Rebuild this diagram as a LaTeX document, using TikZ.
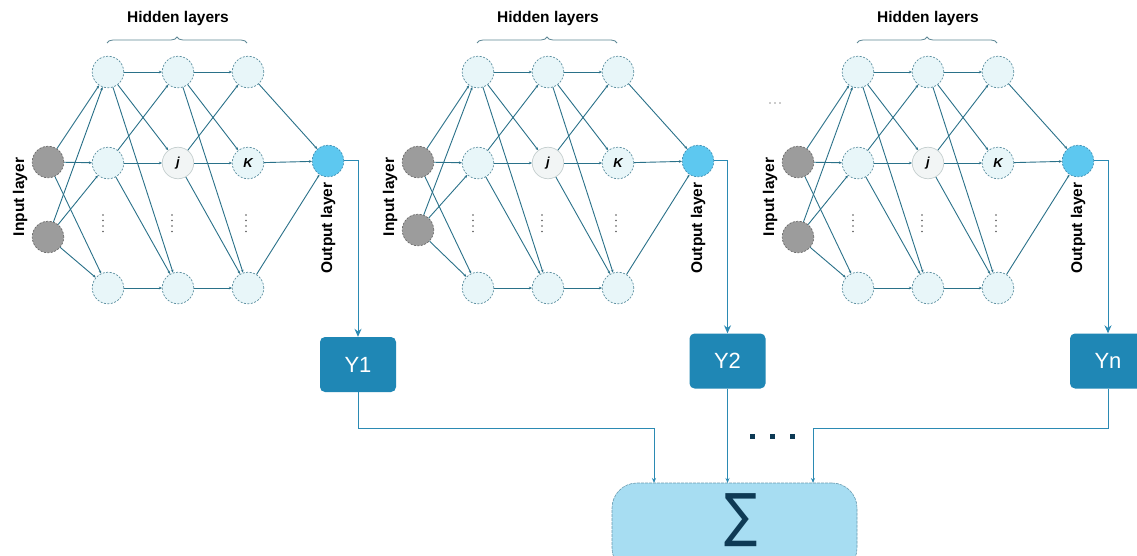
\documentclass[tikz,border=0pt]{standalone}
\usepackage{fontspec}
\setmainfont{Liberation Sans}
\newfontfamily\djv{DejaVu Sans}
\usetikzlibrary{arrows.meta,decorations.pathreplacing}
\definecolor{edgec}{HTML}{2A7189}
\definecolor{hidf}{HTML}{E8F6F9}
\definecolor{hidb}{HTML}{5B8FA0}
\definecolor{inf}{HTML}{9C9C9C}
\definecolor{inb}{HTML}{6A6A6A}
\definecolor{outf}{HTML}{5DC8F0}
\definecolor{outb}{HTML}{3F90B5}
\definecolor{jf}{HTML}{F2F5F5}
\definecolor{jb}{HTML}{C5CFCF}
\definecolor{yfill}{HTML}{1F87B5}
\definecolor{routec}{HTML}{2B8AB3}
\definecolor{sigf}{HTML}{A7DDF2}
\definecolor{sigb}{HTML}{6A9BB0}
\definecolor{navy}{HTML}{0E3A55}
\definecolor{bracec}{HTML}{5E8896}
\tikzset{
 neuron/.style={circle, minimum size=31.5pt, inner sep=0pt, draw=hidb, fill=hidf, dash pattern=on 2pt off 1.5pt, line width=0.7pt},
 inneuron/.style={neuron, fill=inf, draw=inb},
 outneuron/.style={neuron, fill=outf, draw=outb},
 jneuron/.style={neuron, fill=jf, draw=jb, solid, font=\bfseries\itshape\fontsize{13}{15}\selectfont},
 kneuron/.style={neuron, font=\bfseries\itshape\fontsize{13}{15}\selectfont},
 ed/.style={draw=edgec, line width=0.9pt, -{Stealth[length=3pt,width=2.6pt]}},
 ybox/.style={rectangle, rounded corners=5pt, fill=yfill, minimum width=76pt, minimum height=55pt, inner sep=0pt, text=white, font=\fontsize{22}{26}\selectfont},
 route/.style={draw=routec, line width=1pt},
 lbl/.style={font=\bfseries\fontsize{15.5}{18}\selectfont, text=black, inner sep=0pt},
 vdot/.style={fill=black!65, draw=none},
}
\newcommand\nnet[3]{%
\begin{scope}[xshift=#2]
 \node[inneuron] (#1i1) at (48,162) {};
 \node[inneuron] (#1i2) at (48,#3) {};
 \node[neuron] (#1h11) at (108,72) {};
 \node[neuron] (#1h12) at (108,163) {};
 \node[neuron] (#1h13) at (108,288) {};
 \node[neuron] (#1h21) at (178,72) {};
 \node[jneuron] (#1h22) at (178,163) {j};
 \node[neuron] (#1h23) at (178,288) {};
 \node[neuron] (#1h31) at (248,72) {};
 \node[kneuron] (#1h32) at (248,163) {K};
 \node[neuron] (#1h33) at (248,288) {};
 \node[outneuron] (#1o) at (328,161) {};
 \node[lbl] (#1hl) at (178,18) {Hidden layers};
 \node[lbl, rotate=90] (#1il) at (20,197) {Input layer};
 \node[lbl, rotate=90] (#1ol) at (328,228) {Output layer};
 \draw[decorate, decoration={brace, amplitude=6pt}, draw=bracec, line width=0.8pt] (107,43) -- (247,43);
 \foreach \cx in {103,172,246}{
   \foreach \dy in {215,220.5,226,231.5}{
     \fill[vdot] (\cx,\dy) circle (0.9);
   }
 }
 \foreach \a/\b in {i1/h11,i1/h12,i1/h13,i2/h11,i2/h12,i2/h13,
   h11/h21,h11/h22,h11/h23,h12/h21,h12/h22,h12/h23,h13/h23,
   h21/h31,h21/h32,h21/h33,h22/h31,h22/h32,h22/h33,h23/h33,
   h31/o,h32/o,h33/o}{
   \draw[ed] (#1\a) -- (#1\b);
 }
\end{scope}}
\begin{document}
\begin{tikzpicture}[x=1pt,y=-1pt]
\useasboundingbox (0,0) rectangle (1137,556);
\clip (0,0) rectangle (1137,556);
\fill[white] (0,0) rectangle (1137,556);
\nnet{a}{0}{237}
\nnet{b}{370}{230}
\nnet{c}{750}{237}
% extra dots in third network
\foreach \dx in {770,775,780}{\fill[black!40] (\dx,103) circle (0.8);}
% output boxes
\node[ybox] (y1) at (358,364.5) {Y1};
\node[ybox] (y2) at (727.5,361) {Y2};
\node[ybox] (yn) at (1108,361) {Yn};
\draw[route,-{Stealth[length=8pt,width=7pt]}] (ao.east) -| (y1.north);
\draw[route,-{Stealth[length=8pt,width=7pt]}] (bo.east) -| (y2.north);
\draw[route,-{Stealth[length=8pt,width=7pt]}] (co.east) -| (yn.north);
% sum box
\node[rectangle, rounded corners=25pt, fill=sigf, draw=sigb, line width=0.6pt, dash pattern=on 3pt off 1pt, minimum width=245pt, minimum height=90pt, inner sep=0pt] (sig) at (734.5,528) {};
\node[text=navy, inner sep=0pt, xscale=0.95, yscale=1.12, font=\djv\fontsize{52}{60}\selectfont] (sigma) at (741,520) {∑};
\coordinate (lev) at (0,428);
\coordinate (s1) at (654,483);
\coordinate (s2) at (727.5,483);
\coordinate (s3) at (813,483);
\draw[route,-{Stealth[length=5pt,width=4pt]}] (y1.south) -- (y1.south |- lev) -| (s1);
\draw[route,-{Stealth[length=5pt,width=4pt]}] (y2.south) -- (s2);
\draw[route,-{Stealth[length=5pt,width=4pt]}] (yn.south) -- (yn.south |- lev) -| (s3);
\foreach \sx in {752,772,792}{\fill[navy] (\sx-2.5,433.5) rectangle (\sx+2.5,438.5);}
\end{tikzpicture}
\end{document}
